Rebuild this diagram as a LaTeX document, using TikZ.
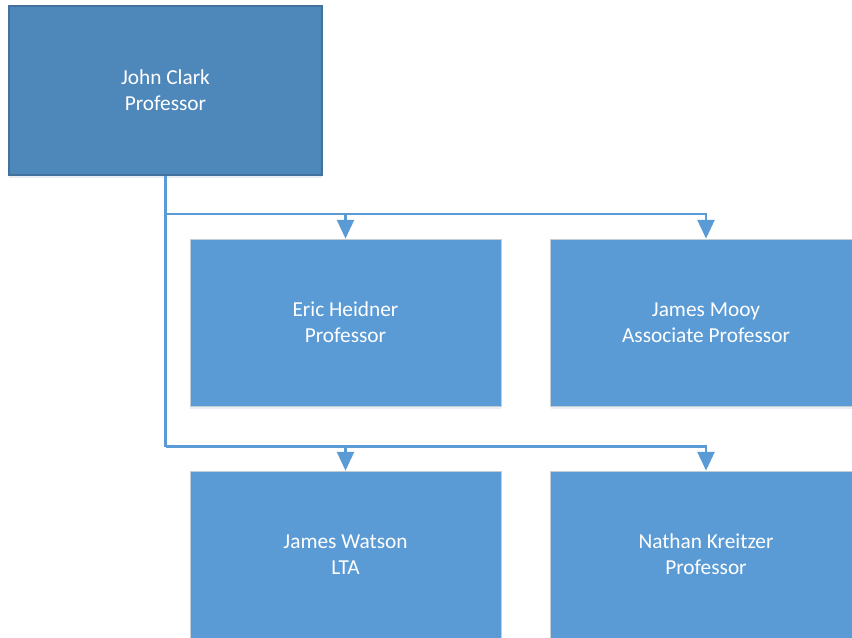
\documentclass[tikz,border=0pt]{standalone}
\usepackage{fontspec}
\setmainfont{Carlito}
\usetikzlibrary{arrows.meta,shadows}
\definecolor{topfill}{HTML}{4E88BB}
\definecolor{topdraw}{HTML}{41719C}
\definecolor{boxfill}{HTML}{5B9BD5}
\definecolor{boxedge}{HTML}{C4CCD4}
\definecolor{connc}{HTML}{5B9BD5}
\tikzset{
  person/.style={rectangle, fill=boxfill, draw=boxedge, line width=0.6pt,
    minimum width=233.25pt, minimum height=125.25pt, inner sep=0pt,
    text=white, align=center, font=\fontsize{16}{19.5}\selectfont,
    drop shadow={shadow xshift=0pt, shadow yshift=-2.5pt, opacity=0.12, fill=topdraw}},
  topperson/.style={person, fill=topfill, draw=topdraw, line width=1.4pt,
    minimum width=234.75pt, minimum height=126.75pt},
  conn/.style={draw=connc, line width=1.6pt},
  arr/.style={conn, -{Triangle[width=12.75pt,length=14pt]}}
}
\begin{document}
\begin{tikzpicture}[x=0.75pt,y=-0.75pt]
\useasboundingbox (0,0) rectangle (852,638);
\clip (0,0) rectangle (852,638);
\node[topperson] (jc) at (165.5,90.5) {John Clark\\Professor};
\node[person] (eh) at (345.5,322.5) {Eric Heidner\\Professor};
\node[person] (jm) at (706,322.5) {James Mooy\\Associate Professor};
\node[person] (jw) at (345.5,554.5) {James Watson\\LTA};
\node[person] (nk) at (706,554.5) {Nathan Kreitzer\\Professor};
\coordinate (r1) at (165.5,214);
\coordinate (r2) at (165.5,446.5);
\draw[conn] (jc.south) -- (r2);
\draw[arr] (r1) -| (eh.north);
\draw[arr] (r1) -| (jm.north);
\draw[arr] (r2) -| (jw.north);
\draw[arr] (r2) -| (nk.north);
\end{tikzpicture}
\end{document}
